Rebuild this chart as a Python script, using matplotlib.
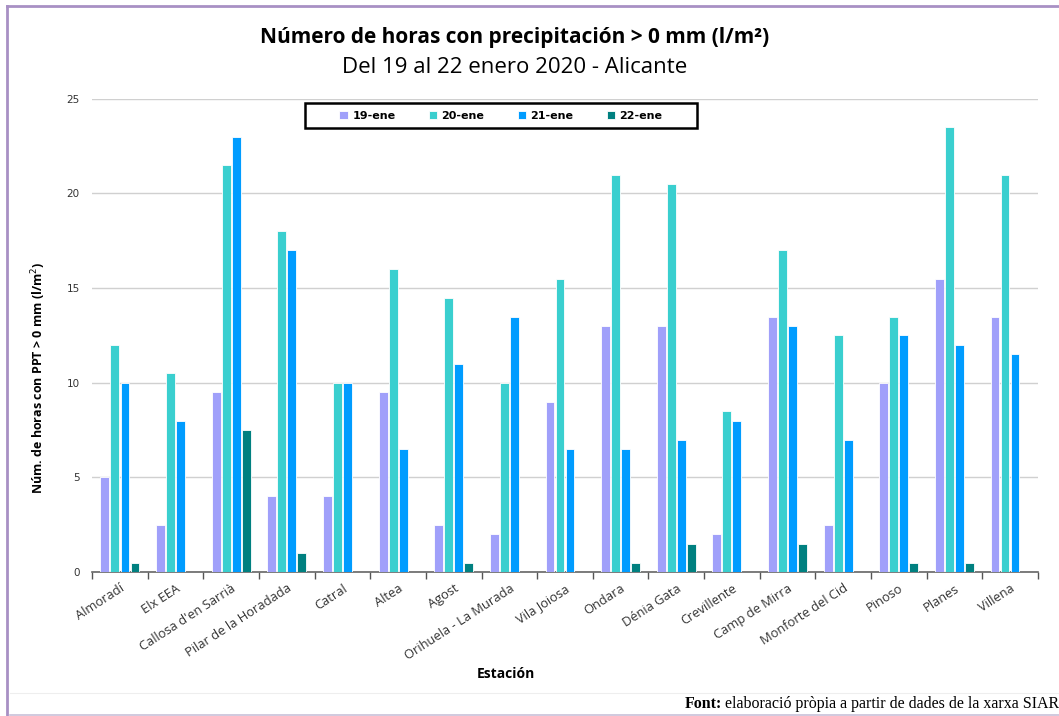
import numpy as np
import matplotlib.pyplot as plt
from matplotlib.lines import Line2D
from matplotlib.patches import Rectangle

# Data
estaciones = ["Almoradí", "Elx EEA", "Callosa d'en Sarrià", "Pilar de la Horadada",
              "Catral", "Altea", "Agost", "Orihuela - La Murada", "Vila Joiosa",
              "Ondara", "Dénia Gata", "Crevillente", "Camp de Mirra",
              "Monforte del Cid", "Pinoso", "Planes", "Villena"]
dias = ["19-ene", "20-ene", "21-ene", "22-ene"]
ene19 = [5, 2.5, 9.5, 4, 4, 9.5, 2.5, 2, 9, 13, 13, 2, 13.5, 2.5, 10, 15.5, 13.5]
ene20 = [12, 10.5, 21.5, 18, 10, 16, 14.5, 10, 15.5, 21, 20.5, 8.5, 17, 12.5, 13.5, 23.5, 21]
ene21 = [10, 8, 23, 17, 10, 6.5, 11, 13.5, 6.5, 6.5, 7, 8, 13, 7, 12.5, 12, 11.5]
ene22 = [0.5, 0, 7.5, 1, 0, 0, 0.5, 0, 0, 0.5, 1.5, 0, 1.5, 0, 0.5, 0.5, 0]
colores = ["#a0a0fa", "#3acfcf", "#009cff", "#008080"]

fig = plt.figure(figsize=(10.59, 7.16), dpi=100)
ax = fig.add_axes([0.087, 0.201, 0.893, 0.661])

x = np.arange(len(estaciones))
slot = 0.18
width = 0.16
for i, (serie, dia) in enumerate(zip([ene19, ene20, ene21, ene22], dias)):
    ax.bar(x + (i - 1.5) * slot, serie, width, color=colores[i], label=dia,
           edgecolor="white", linewidth=0.6, zorder=3)

ax.set_xlim(-0.5, len(estaciones) - 0.5)
ax.set_ylim(0, 25)
ax.set_yticks([0, 5, 10, 15, 20, 25])
ax.yaxis.grid(True, color="#d0d0d0", linewidth=1.0, zorder=0)
ax.tick_params(axis="y", length=0, labelsize=7.5, colors="#333333", pad=9)

ax.set_xticks(x)
ax.set_xticklabels(estaciones, rotation=33, ha="right", rotation_mode="anchor",
                   fontsize=9.3, family="Open Sans", color="#333333")
ax.tick_params(axis="x", length=0, pad=7)
ax.set_xticks(np.arange(-0.5, len(estaciones)), minor=True)
ax.tick_params(axis="x", which="minor", length=5, color="#555555", width=1)

for s in ["left", "right", "top"]:
    ax.spines[s].set_visible(False)
ax.spines["bottom"].set_color("#666666")
ax.spines["bottom"].set_linewidth(1.2)

ax.set_ylabel("Núm. de horas con PPT > 0 mm (l/m$^2$)", fontsize=9, fontweight="bold",
              family="Open Sans")
ax.yaxis.set_label_coords(-0.047, 0.41)
ax.set_xlabel("Estación", fontsize=10, fontweight="bold", family="Open Sans")
ax.xaxis.set_label_coords(0.437, -0.2)

# legend with a hand drawn box
ax.add_patch(Rectangle((0.2251, 0.938), 0.4145, 0.053, transform=ax.transAxes,
                       facecolor="white", edgecolor="black", linewidth=1.8, zorder=4))
leg = ax.legend(loc="center", bbox_to_anchor=(0.4324, 0.9645), ncol=4, frameon=False,
                handlelength=0.75, handleheight=0.75, handletextpad=0.4,
                columnspacing=3.0, prop={"weight": "bold", "size": 8})
leg.set_zorder(5)

fig.text(0.486, 0.948, "Número de horas con precipitación > 0 mm (l/m²)", ha="center",
         va="center", fontsize=15, fontweight="bold", family="Open Sans")
fig.text(0.486, 0.906, "Del 19 al 22 enero 2020 - Alicante", ha="center", va="center",
         fontsize=16, family="Open Sans")

# Source note
fig.text(0.647, 0.017, "Font:", fontsize=11.5, fontweight="bold", va="center",
         family="Liberation Serif")
fig.text(0.6845, 0.017, "elaboració pròpia a partir de dades de la xarxa SIAR", fontsize=11.5,
         va="center", family="Liberation Serif")

# frame lines
fig.add_artist(Line2D([0.0067, 0.0067], [0.0, 0.992], color="#a890c4", linewidth=2))
fig.add_artist(Line2D([0.0067, 1.0], [0.992, 0.992], color="#a890c4", linewidth=2))
fig.add_artist(Line2D([0.009, 1.0], [0.032, 0.032], color="#eeeeee", linewidth=0.8))
fig.add_artist(Line2D([0.009, 1.0], [0.002, 0.002], color="#c8c0d8", linewidth=1.2))

fig.savefig("out.png", dpi=100)
